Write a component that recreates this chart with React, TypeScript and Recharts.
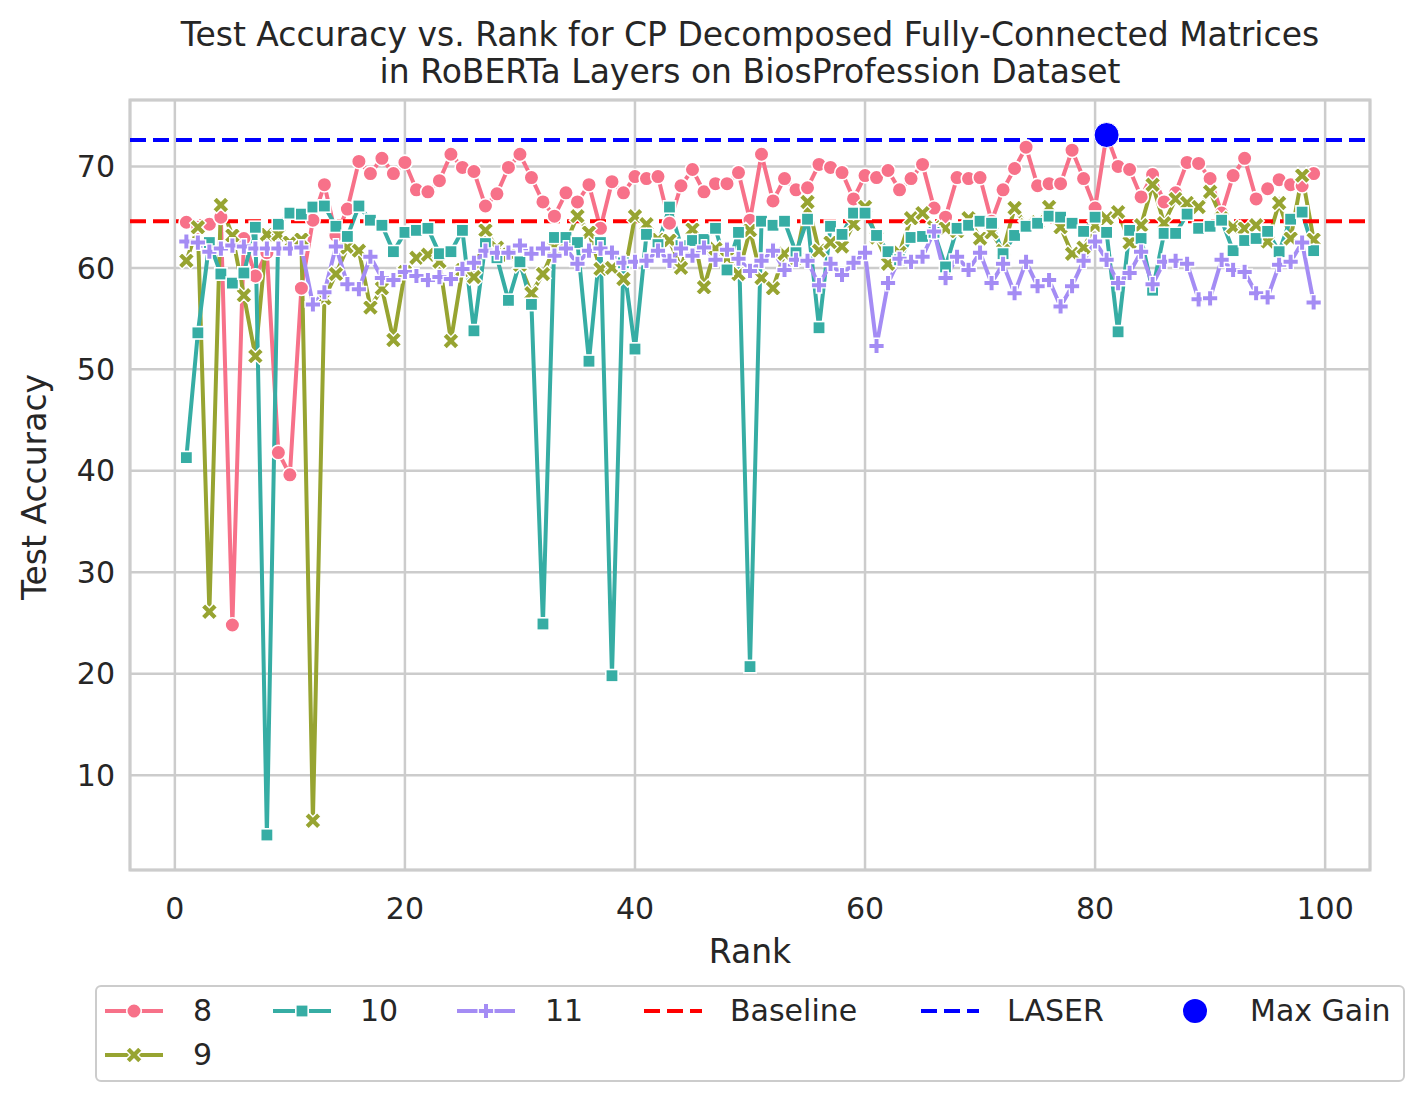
import React from "react";
import {
  LineChart,
  Line,
  XAxis,
  YAxis,
  CartesianGrid,
  ReferenceLine,
  ReferenceDot,
  ReferenceArea,
} from "recharts";

// ranks 1..99 on the x axis
const RANKS = Array.from({ length: 99 }, (_, i) => i + 1);

// test accuracy per rank, one array per RoBERTa layer
const LAYER_8 = [
  64.5, 64.0, 64.3, 65.0, 24.8, 62.9, 59.2, 61.5, 41.8, 39.6,
  58.0, 64.7, 68.2, 63.2, 65.8, 70.5, 69.3, 70.8, 69.3, 70.4,
  67.7, 67.5, 68.6, 71.2, 69.9, 69.5, 66.1, 67.3, 69.9, 71.2,
  68.9, 66.5, 65.1, 67.4, 66.5, 68.2, 63.9, 68.5, 67.4, 69.0,
  68.8, 69.0, 64.4, 68.1, 69.7, 67.5, 68.3, 68.3, 69.4, 64.7,
  71.2, 66.6, 68.8, 67.7, 67.9, 70.2, 69.9, 69.4, 66.8, 69.1,
  68.9, 69.6, 67.7, 68.8, 70.2, 65.9, 65.0, 68.9, 68.8, 68.9,
  64.6, 67.7, 69.8, 71.9, 68.1, 68.3, 68.3, 71.6, 68.8, 65.9,
  73.1, 70.0, 69.7, 67.0, 69.2, 66.5, 67.4, 70.4, 70.3, 68.8,
  65.4, 69.1, 70.8, 66.8, 67.8, 68.7, 68.2, 68.1, 69.3,
];

const LAYER_9 = [
  60.7, 64.0, 26.1, 66.2, 63.2, 57.3, 51.3, 63.3, 63.3, 62.5,
  62.8, 5.5, 57.0, 59.4, 62.0, 61.7, 56.1, 58.0, 52.9, 59.6,
  61.0, 61.3, 60.6, 52.8, 59.8, 59.1, 63.7, 62.0, 61.3, 60.3,
  57.5, 59.4, 62.0, 62.5, 65.1, 63.5, 59.9, 60.0, 58.9, 65.1,
  64.3, 62.8, 62.7, 60.0, 63.8, 58.1, 61.9, 61.0, 59.4, 63.7,
  59.0, 58.0, 61.4, 61.0, 66.5, 61.7, 62.5, 62.1, 64.3, 66.0,
  63.0, 60.4, 61.5, 64.9, 65.4, 64.0, 63.9, 63.6, 64.9, 62.9,
  63.5, 61.7, 65.9, 64.2, 64.5, 66.0, 64.0, 61.4, 62.0, 64.2,
  64.9, 65.5, 62.5, 64.2, 68.2, 64.4, 66.8, 66.4, 66.0, 67.5,
  64.9, 64.0, 63.9, 64.2, 62.6, 66.4, 62.9, 69.1, 62.8,
];

const LAYER_10 = [
  41.3, 53.6, 62.5, 59.4, 58.5, 59.5, 64.0, 4.1, 64.3, 65.4,
  65.3, 66.0, 66.1, 64.1, 63.1, 66.1, 64.7, 64.2, 61.6, 63.5,
  63.7, 63.9, 61.4, 61.6, 63.7, 53.8, 62.4, 61.0, 56.8, 60.6,
  56.4, 24.9, 63.0, 63.0, 62.5, 50.8, 62.5, 19.8, 60.5, 52.0,
  63.3, 62.3, 66.0, 62.2, 62.7, 62.8, 63.9, 59.8, 63.5, 20.7,
  64.6, 64.2, 64.6, 61.5, 64.8, 54.1, 64.1, 63.3, 65.4, 65.4,
  63.2, 61.6, 60.8, 63.0, 63.1, 63.5, 60.1, 63.9, 64.2, 64.6,
  64.4, 61.4, 63.2, 64.1, 64.4, 65.1, 65.0, 64.4, 63.6, 65.0,
  63.5, 53.7, 63.7, 62.9, 57.8, 63.4, 63.4, 65.3, 63.9, 64.1,
  64.7, 61.7, 62.7, 62.9, 63.6, 61.6, 64.8, 65.5, 61.7,
];

const LAYER_11 = [
  62.6, 62.5, 61.6, 61.9, 62.2, 62.1, 61.9, 61.9, 61.9, 61.9,
  62.0, 56.4, 57.6, 62.1, 58.4, 57.9, 61.1, 59.0, 58.8, 59.6,
  59.2, 58.8, 59.1, 58.9, 59.9, 60.5, 61.7, 61.5, 61.5, 62.2,
  61.4, 61.9, 61.2, 61.9, 60.4, 61.7, 61.9, 61.5, 60.5, 60.6,
  60.7, 61.7, 60.7, 61.9, 61.2, 62.0, 60.8, 61.8, 60.9, 59.7,
  60.7, 61.7, 59.8, 60.8, 60.7, 58.3, 60.4, 59.3, 60.5, 61.5,
  52.3, 58.5, 60.9, 60.6, 61.1, 63.6, 59.0, 61.1, 59.8, 61.5,
  58.5, 60.4, 57.5, 60.6, 58.2, 58.8, 56.2, 58.2, 60.7, 62.6,
  60.8, 58.5, 59.5, 61.6, 58.4, 60.6, 60.7, 60.4, 56.9, 57.0,
  60.8, 59.8, 59.6, 57.5, 57.1, 60.3, 60.6, 62.5, 56.6,
];

const BASELINE = 64.6;
const LASER = 72.6;
const MAX_GAIN_RANK = 81;
const MAX_GAIN_VALUE = 73.1;

const X_TICKS = [0, 20, 40, 60, 80, 100];
const Y_TICKS = [10, 20, 30, 40, 50, 60, 70];
const X_DOMAIN = [-3.9, 103.9];
const Y_DOMAIN = [0.65, 76.55];

const COLORS = {
  L8: "#f77189",
  L9: "#97a431",
  L10: "#36ada4",
  L11: "#a48cf4",
  BASELINE: "#ff0000",
  LASER: "#0000ff",
  GRID: "#cccccc",
  TEXT: "#262626",
} as const;

const FONT = "'DejaVu Sans', Verdana, sans-serif";
const LINE_WIDTH = 4;

const data = RANKS.map((rank, i) => ({
  rank,
  l8: LAYER_8[i],
  l9: LAYER_9[i],
  l10: LAYER_10[i],
  l11: LAYER_11[i],
}));

type MarkerKind = "circle" | "x" | "square" | "plus";

function plusPoints(s: number, t: number) {
  return [
    [-t, -s], [t, -s], [t, -t], [s, -t], [s, t], [t, t],
    [t, s], [-t, s], [-t, t], [-s, t], [-s, -t], [-t, -t],
  ]
    .map((p) => p.join(","))
    .join(" ");
}

function Marker({ kind, cx, cy, color }: { kind: MarkerKind; cx: number; cy: number; color: string }) {
  if (kind === "circle") {
    return <circle cx={cx} cy={cy} r={7.3} fill={color} stroke="#fff" strokeWidth={1.6} />;
  }
  if (kind === "square") {
    return <rect x={cx - 6.2} y={cy - 6.2} width={12.4} height={12.4} fill={color} stroke="#fff" strokeWidth={1.6} />;
  }
  const pts = kind === "x" ? plusPoints(8.8, 2.8) : plusPoints(7.8, 2.7);
  return (
    <polygon
      points={pts}
      transform={`translate(${cx},${cy}) rotate(${kind === "x" ? 45 : 0})`}
      fill={color}
      stroke="#fff"
      strokeWidth={1.4}
    />
  );
}

const dotFor = (kind: MarkerKind, color: string, name: string) => (p: any) => (
  <Marker key={`${name}-${p.index}`} kind={kind} cx={p.cx} cy={p.cy} color={color} />
);

function LegendHandle({ kind, color, dashed }: { kind?: MarkerKind | "dot"; color: string; dashed?: boolean }) {
  return (
    <svg width={62} height={28} style={{ display: "block" }}>
      {kind !== "dot" && (
        <line
          x1={2}
          x2={60}
          y1={14}
          y2={14}
          stroke={color}
          strokeWidth={LINE_WIDTH}
          strokeDasharray={dashed ? "16 7" : undefined}
        />
      )}
      {kind === "dot" && <circle cx={31} cy={14} r={12} fill={color} />}
      {kind && kind !== "dot" && <Marker kind={kind} cx={31} cy={14} color={color} />}
    </svg>
  );
}

const LEGEND_ITEMS = [
  { label: "8", kind: "circle" as const, color: COLORS.L8, handleX: 95, textX: 185, row: 0 },
  { label: "10", kind: "square" as const, color: COLORS.L10, handleX: 263, textX: 352, row: 0 },
  { label: "11", kind: "plus" as const, color: COLORS.L11, handleX: 447, textX: 537, row: 0 },
  { label: "Baseline", color: COLORS.BASELINE, dashed: true, handleX: 634, textX: 722, row: 0 },
  { label: "LASER", color: COLORS.LASER, dashed: true, handleX: 911, textX: 999, row: 0 },
  { label: "Max Gain", kind: "dot" as const, color: COLORS.LASER, handleX: 1156, textX: 1242, row: 0 },
  { label: "9", kind: "x" as const, color: COLORS.L9, handleX: 95, textX: 185, row: 1 },
];

export default function App() {
  const textStyle: React.CSSProperties = {
    position: "absolute",
    fontFamily: FONT,
    color: COLORS.TEXT,
    whiteSpace: "nowrap",
  };

  return (
    <div style={{ position: "relative", width: 1409, height: 1087, fontFamily: FONT, background: "#fff" }}>
      <div style={{ ...textStyle, left: 0, width: 1484, top: 9, fontSize: 33, lineHeight: "36px", textAlign: "center" }}>
        Test Accuracy vs. Rank for CP Decomposed Fully-Connected Matrices
      </div>
      <div style={{ ...textStyle, left: 0, width: 1484, top: 46, fontSize: 33, lineHeight: "36px", textAlign: "center" }}>
        in RoBERTa Layers on BiosProfession Dataset
      </div>

      <div style={{ position: "absolute", left: 0, top: 0 }}>
        <LineChart width={1400} height={1000} data={data} margin={{ top: 92, right: 38, left: 0, bottom: 38 }}>
          <CartesianGrid stroke={COLORS.GRID} strokeWidth={2.5} />
          <XAxis
            dataKey="rank"
            type="number"
            domain={X_DOMAIN}
            ticks={X_TICKS}
            axisLine={false}
            tickLine={false}
            tickMargin={22}
            height={100}
            tick={{ fill: COLORS.TEXT, fontSize: 30, fontFamily: FONT }}
          />
          <YAxis
            type="number"
            domain={Y_DOMAIN}
            ticks={Y_TICKS}
            axisLine={false}
            tickLine={false}
            tickMargin={9}
            width={122}
            tick={{ fill: COLORS.TEXT, fontSize: 30, fontFamily: FONT }}
          />
          <ReferenceArea
            x1={X_DOMAIN[0]}
            x2={X_DOMAIN[1]}
            y1={Y_DOMAIN[0]}
            y2={Y_DOMAIN[1]}
            fill="none"
            stroke={COLORS.GRID}
            strokeWidth={3}
            ifOverflow="visible"
          />
          <Line dataKey="l8" stroke={COLORS.L8} strokeWidth={LINE_WIDTH} dot={dotFor("circle", COLORS.L8, "l8")} activeDot={false} isAnimationActive={false} />
          <Line dataKey="l9" stroke={COLORS.L9} strokeWidth={LINE_WIDTH} dot={dotFor("x", COLORS.L9, "l9")} activeDot={false} isAnimationActive={false} />
          <Line dataKey="l10" stroke={COLORS.L10} strokeWidth={LINE_WIDTH} dot={dotFor("square", COLORS.L10, "l10")} activeDot={false} isAnimationActive={false} />
          <Line dataKey="l11" stroke={COLORS.L11} strokeWidth={LINE_WIDTH} dot={dotFor("plus", COLORS.L11, "l11")} activeDot={false} isAnimationActive={false} />
          <ReferenceLine y={BASELINE} stroke={COLORS.BASELINE} strokeWidth={4} strokeDasharray="16 7" />
          <ReferenceLine y={LASER} stroke={COLORS.LASER} strokeWidth={4} strokeDasharray="16 7" />
          <ReferenceDot x={MAX_GAIN_RANK} y={MAX_GAIN_VALUE} r={12.5} fill={COLORS.LASER} stroke="#fff" strokeWidth={1} />
        </LineChart>
      </div>

      <div
        style={{
          ...textStyle,
          left: 742,
          top: 944,
          fontSize: 33,
          lineHeight: "36px",
          transform: "translate(-50%, -50%)",
        }}
      >
        Rank
      </div>
      <div
        style={{
          ...textStyle,
          left: 27,
          top: 479,
          fontSize: 33,
          lineHeight: "36px",
          transform: "translate(-50%, -50%) rotate(-90deg)",
        }}
      >
        Test Accuracy
      </div>

      <div
        style={{
          position: "absolute",
          left: 87,
          top: 977,
          width: 1310,
          height: 97,
          border: `2px solid ${COLORS.GRID}`,
          borderRadius: 6,
          boxSizing: "border-box",
          background: "#fff",
        }}
      />
      {LEGEND_ITEMS.map((it) => {
        const cy = it.row === 0 ? 1003 : 1047;
        return (
          <React.Fragment key={it.label}>
            <div style={{ position: "absolute", left: it.handleX, top: cy - 14 }}>
              <LegendHandle kind={it.kind} color={it.color} dashed={it.dashed} />
            </div>
            <div style={{ ...textStyle, left: it.textX, top: cy - 18, fontSize: 30, lineHeight: "36px" }}>{it.label}</div>
          </React.Fragment>
        );
      })}
    </div>
  );
}
